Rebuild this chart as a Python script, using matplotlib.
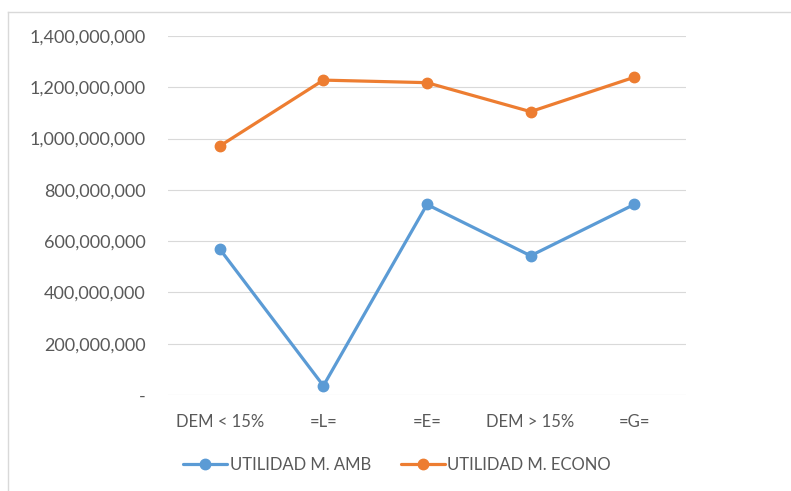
import matplotlib
matplotlib.use("Agg")
import matplotlib.pyplot as plt
from matplotlib.lines import Line2D
from matplotlib.ticker import FuncFormatter

categories = ["DEM < 15%", "=L=", "=E=", "DEM > 15%", "=G="]
amb = [569e6, 36e6, 743e6, 543e6, 743e6]
econo = [971e6, 1228e6, 1218e6, 1105e6, 1239e6]
series_names = ["UTILIDAD M. AMB", "UTILIDAD M. ECONO"]

plt.rcParams['font.family'] = ['Lato', 'DejaVu Sans']
text_color = "#595959"

fig = plt.figure(figsize=(7.91, 4.91), dpi=100)
W, H = 791, 491
ax = fig.add_axes([168 / W, 1 - 395 / H, (686 - 168) / W, (395 - 36) / H])

x = list(range(len(categories)))
ax.plot(x, amb, color="#5B9BD5", lw=2.3, marker="o", ms=7.5, label=series_names[0],
        solid_capstyle="round", zorder=3)
ax.plot(x, econo, color="#ED7D31", lw=2.3, marker="o", ms=7.5, label=series_names[1],
        solid_capstyle="round", zorder=3)

ax.set_xlim(-0.5, len(categories) - 0.5)
ax.set_ylim(0, 1.4e9)
ax.set_yticks([i * 2e8 for i in range(8)])
ax.yaxis.set_major_formatter(FuncFormatter(lambda v, p: "-" if v == 0 else f"{v:,.0f}"))
ax.set_xticks(x)
ax.set_xticklabels(categories)
ax.grid(axis="y", color="#D9D9D9", lw=0.8)
ax.set_axisbelow(True)
for s in ax.spines.values():
    s.set_visible(False)
ax.tick_params(axis="both", length=0, colors=text_color)
ax.tick_params(axis="y", pad=16, labelsize=13)
ax.tick_params(axis="x", pad=14, labelsize=12)

leg = fig.legend(loc="center", bbox_to_anchor=(397 / W, 1 - 465 / H), ncol=2, frameon=False,
                 fontsize=12, handlelength=2.65, handletextpad=0.15, columnspacing=1.8)
for t in leg.get_texts():
    t.set_color(text_color)

# chart border (partially cropped)
fig.add_artist(Line2D([8 / W, 8 / W], [0, 1 - 12 / H], transform=fig.transFigure,
                      color="#D9D9D9", lw=1.0))
fig.add_artist(Line2D([8 / W, 1], [1 - 12 / H, 1 - 12 / H], transform=fig.transFigure,
                      color="#D9D9D9", lw=1.0))

fig.savefig("out.png", dpi=100)
